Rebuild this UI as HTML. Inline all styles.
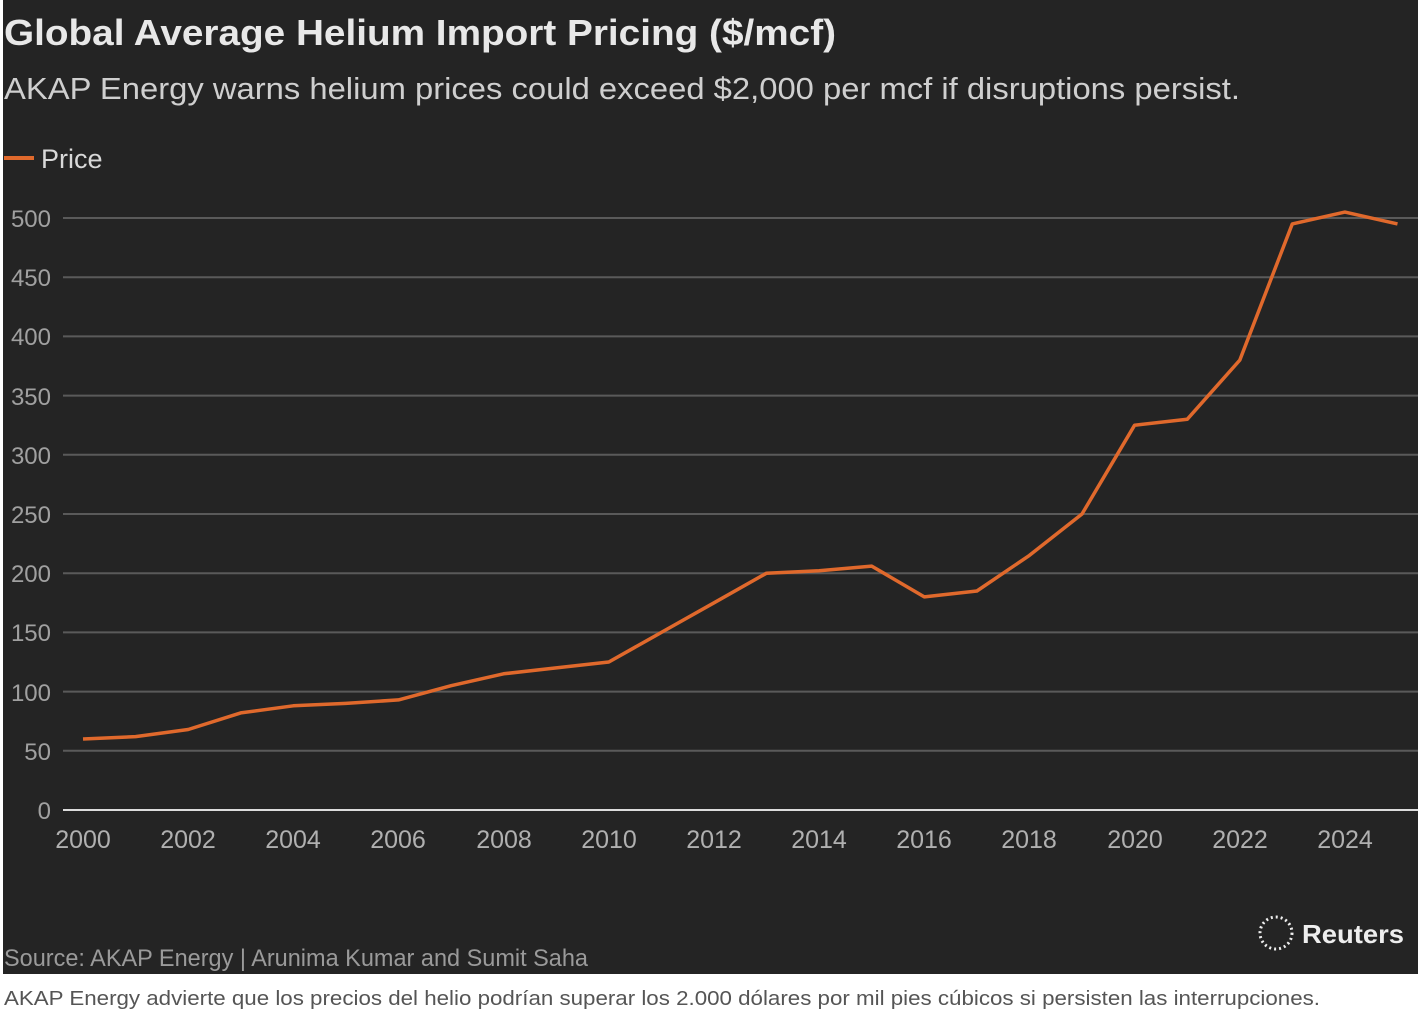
<!DOCTYPE html><html><head><style>
body{margin:0;background:#fff;width:1426px;height:1020px;overflow:hidden;font-family:"Liberation Sans",sans-serif}
</style></head><body>
<svg width="1426" height="1020" xmlns="http://www.w3.org/2000/svg" style="position:absolute;left:0;top:0">
<rect x="3" y="0" width="1415" height="974" fill="#242424"/>
<text x="4" y="45" font-size="36" font-weight="bold" fill="#e8e8e8" textLength="832" lengthAdjust="spacingAndGlyphs">Global Average Helium Import Pricing ($/mcf)</text>
<text x="4" y="99" font-size="31" fill="#cfcfcf" textLength="1236" lengthAdjust="spacingAndGlyphs">AKAP Energy warns helium prices could exceed $2,000 per mcf if disruptions persist.</text>
<line x1="4" y1="158" x2="34" y2="158" stroke="#e0692c" stroke-width="4"/>
<text x="41" y="168" font-size="27" fill="#d8d8d8">Price</text>
<g stroke="#5a5a5a" stroke-width="2">
<line x1="63" y1="218" x2="1418" y2="218"/><line x1="63" y1="277.2" x2="1418" y2="277.2"/><line x1="63" y1="336.4" x2="1418" y2="336.4"/><line x1="63" y1="395.6" x2="1418" y2="395.6"/><line x1="63" y1="454.8" x2="1418" y2="454.8"/><line x1="63" y1="514" x2="1418" y2="514"/><line x1="63" y1="573.2" x2="1418" y2="573.2"/><line x1="63" y1="632.4" x2="1418" y2="632.4"/><line x1="63" y1="691.6" x2="1418" y2="691.6"/><line x1="63" y1="750.8" x2="1418" y2="750.8"/>
</g>
<line x1="63" y1="810" x2="1418" y2="810" stroke="#dcdcdc" stroke-width="2"/>
<g font-size="24" fill="#a0a0a0" text-anchor="end">
<text x="51" y="227">500</text><text x="51" y="286">450</text><text x="51" y="345">400</text><text x="51" y="405">350</text><text x="51" y="464">300</text><text x="51" y="523">250</text><text x="51" y="582">200</text><text x="51" y="641">150</text><text x="51" y="701">100</text><text x="51" y="760">50</text><text x="51" y="819">0</text>
</g>
<g font-size="25" fill="#b0b0b0" text-anchor="middle">
<text x="83" y="848">2000</text><text x="188" y="848">2002</text><text x="293" y="848">2004</text><text x="398" y="848">2006</text><text x="504" y="848">2008</text><text x="609" y="848">2010</text><text x="714" y="848">2012</text><text x="819" y="848">2014</text><text x="924" y="848">2016</text><text x="1029" y="848">2018</text><text x="1135" y="848">2020</text><text x="1240" y="848">2022</text><text x="1345" y="848">2024</text>
</g>
<polyline fill="none" stroke="#e0692c" stroke-width="3.5" stroke-linejoin="round" points="83,739 135.6,736.6 188.2,729.5 240.7,712.9 293.3,705.8 345.9,703.4 398.5,699.9 451.1,685.7 503.6,673.8 556.2,667.9 608.8,662 661.4,632.4 714,602.8 766.5,573.2 819.1,570.8 871.7,566.1 924.3,596.9 976.9,591 1029.4,555.4 1082,514 1134.6,425.2 1187.2,419.3 1239.8,360.1 1292.3,223.9 1344.9,212.1 1397.5,223.9"/>
<text x="4" y="966" font-size="24" fill="#9a9a9a" textLength="584" lengthAdjust="spacingAndGlyphs">Source: AKAP Energy | Arunima Kumar and Sumit Saha</text>
<circle cx="1276" cy="933" r="16" fill="none" stroke="#eee" stroke-width="3" stroke-dasharray="2 3"/>
<text x="1302" y="943" font-size="26" font-weight="bold" fill="#eee" textLength="102" lengthAdjust="spacingAndGlyphs">Reuters</text>
<text x="4" y="1005" font-size="20" fill="#555" textLength="1316" lengthAdjust="spacingAndGlyphs">AKAP Energy advierte que los precios del helio podrían superar los 2.000 dólares por mil pies cúbicos si persisten las interrupciones.</text>
</svg>
</body></html>
